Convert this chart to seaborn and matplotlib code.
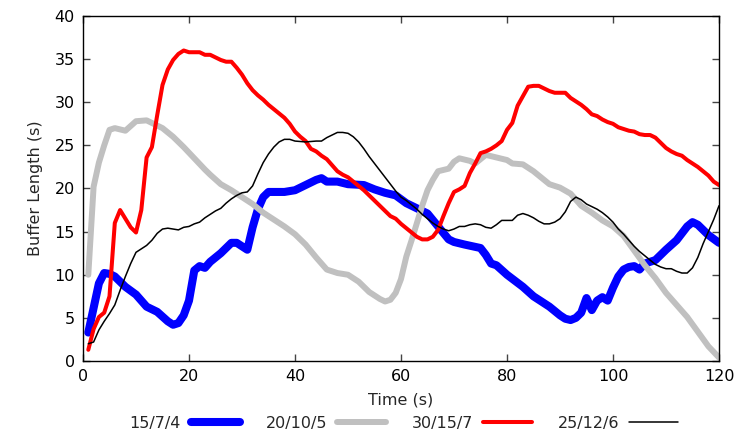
import matplotlib
matplotlib.use("Agg")
import matplotlib.pyplot as plt
import seaborn as sns
import pandas as pd

# ---- data ----
labels = ["15/7/4", "20/10/5", "30/15/7", "25/12/6"]
colors = ["#0000ff", "#c0c0c0", "#ff0000", "#000000"]

t_a = [1,3,4,5,6,8,10,12,14,16,17,18,19,20,21,22,23,24,26,28,29,30,31,32,33,34,35,38,40,42,
       44,45,46,48,50,53,55,57,59,61,63,65,67,69,70,72,75,76,77,78,80,83,85,88,90,91,92,93,94,95,
       96,97,98,99,100,101,102,103,104,105,106,108,110,112,114,115,116,118,120]
v_a = [3.3,9.0,10.2,10.1,9.8,8.6,7.7,6.3,5.7,4.6,4.2,4.4,5.3,7.0,10.5,11.0,10.8,11.5,12.5,13.7,
       13.7,13.3,12.9,15.5,17.6,19.0,19.6,19.6,19.8,20.4,21.0,21.2,20.8,20.8,20.5,20.4,19.9,19.5,19.2,18.3,
       17.7,17.1,15.6,14.1,13.8,13.5,13.1,12.3,11.3,11.1,10.0,8.6,7.5,6.3,5.3,4.9,4.75,5.0,5.6,7.3,
       5.9,7.0,7.4,7.0,8.5,9.8,10.6,10.9,11.0,10.6,11.3,11.7,12.9,14.0,15.6,16.1,15.8,14.6,13.7]

t_b = [1,2,3,4,5,6,8,10,12,13,15,17,19,21,23,24,26,28,30,32,34,36,38,40,42,44,46,48,50,52,
       54,56,57,58,59,60,61,62,63,64,65,66,67,69,70,71,73,74,76,78,80,81,83,85,87,88,90,92,94,96,
       98,100,102,104,106,108,110,112,114,116,118,120]
v_b = [10.0,20.2,23.0,25.0,26.8,27.0,26.7,27.8,27.9,27.6,27.0,26.0,24.8,23.5,22.2,21.6,20.5,19.8,19.0,18.2,
       17.2,16.4,15.6,14.7,13.5,12.0,10.6,10.2,10.0,9.2,8.0,7.2,6.9,7.1,7.9,9.5,12.1,14.0,16.0,18.0,
       19.8,21.0,22.0,22.3,23.1,23.5,23.2,22.9,23.9,23.6,23.3,22.9,22.8,22.0,21.0,20.5,20.1,19.4,18.0,17.2,
       16.3,15.6,14.5,12.8,11.1,9.6,7.9,6.5,5.1,3.4,1.7,0.4]

t_c = [1,2,3,4,5,6,7,8,9,10,11,12,13,14,15,16,17,18,19,20,22,23,24,25,26,27,28,29,30,31,
       32,33,34,35,36,37,38,39,40,41,42,43,44,45,46,47,48,49,50,51,52,53,54,55,56,57,58,59,60,61,
       62,63,64,65,66,67,68,69,70,71,72,73,74,75,76,77,78,79,80,81,82,83,84,85,86,87,88,89,90,91,
       92,93,94,95,96,97,98,99,100,101,102,103,104,105,106,107,108,109,110,111,112,113,114,115,116,117,118,119,120]
v_c = [1.3,3.7,5.1,5.6,7.5,16.0,17.5,16.5,15.5,14.9,17.5,23.6,24.8,28.5,32.0,33.8,34.9,35.6,36.0,35.8,35.8,35.5,35.5,35.2,34.9,34.7,34.7,34.0,33.2,32.2,
       31.4,30.8,30.3,29.7,29.2,28.7,28.2,27.5,26.6,26.0,25.5,24.6,24.3,23.8,23.4,22.7,22.0,21.6,21.3,20.8,20.3,19.8,19.2,18.6,18.0,17.4,16.8,16.5,15.9,15.4,
       14.9,14.4,14.1,14.1,14.4,15.2,16.8,18.3,19.6,19.9,20.3,21.8,22.9,24.1,24.3,24.6,25.0,25.5,26.8,27.6,29.6,30.7,31.8,31.9,31.9,31.6,31.3,31.1,31.1,31.1,
       30.5,30.1,29.7,29.2,28.6,28.4,28.0,27.7,27.5,27.1,26.9,26.7,26.6,26.3,26.2,26.2,25.9,25.3,24.7,24.3,24.0,23.8,23.3,22.9,22.5,22.0,21.5,20.8,20.4]

t_d = [1,2,3,4,5,6,7,8,9,10,11,12,13,14,15,16,17,18,19,20,21,22,23,24,25,26,27,28,29,30,
       31,32,33,34,35,36,37,38,39,40,42,44,45,46,47,48,49,50,51,52,53,54,55,56,57,58,59,60,61,62,
       63,64,65,66,67,68,69,70,71,72,73,74,75,76,77,78,79,80,81,82,83,84,85,86,87,88,89,90,91,92,
       93,94,95,96,97,98,99,100,101,102,103,104,105,106,107,108,109,110,111,112,113,114,115,116,117,118,119,120]
v_d = [2.0,2.2,3.6,4.6,5.5,6.5,8.2,9.8,11.3,12.6,13.0,13.4,14.0,14.8,15.3,15.4,15.3,15.2,15.5,15.6,15.9,16.1,16.6,17.0,17.4,17.7,18.3,18.8,19.2,19.5,
       19.6,20.3,21.7,23.0,24.0,24.8,25.4,25.7,25.7,25.5,25.4,25.5,25.5,25.9,26.2,26.5,26.5,26.4,26.0,25.4,24.6,23.7,22.9,22.1,21.3,20.5,19.7,19.0,18.6,18.1,
       17.6,17.0,16.5,16.0,15.6,15.3,15.1,15.3,15.6,15.6,15.8,15.9,15.8,15.5,15.4,15.8,16.3,16.3,16.3,16.9,17.1,16.9,16.6,16.2,15.9,15.9,16.1,16.5,17.3,18.5,
       19.0,18.7,18.2,17.9,17.6,17.2,16.7,16.1,15.3,14.7,14.0,13.3,12.7,12.2,11.7,11.2,10.9,10.7,10.7,10.4,10.2,10.2,10.8,12.0,13.6,15.0,16.4,18.0]

x_ticks = [0, 20, 40, 60, 80, 100, 120]
y_ticks = [0, 5, 10, 15, 20, 25, 30, 35, 40]

series = [(t_a, v_a), (t_b, v_b), (t_c, v_c), (t_d, v_d)]
widths = [5.8, 4.3, 2.9, 1.1]

sns.set_theme(style="ticks")
plt.rcParams["font.family"] = ["DejaVu Sans"]
plt.rcParams.update({
    "xtick.direction": "in", "ytick.direction": "in",
    "xtick.top": True, "ytick.right": True,
    "xtick.major.size": 5, "ytick.major.size": 5,
    "xtick.major.width": 1.0, "ytick.major.width": 1.0,
    "axes.edgecolor": "black", "axes.linewidth": 1.0,
    "xtick.color": "#444444", "ytick.color": "#444444",
    "xtick.labelcolor": "black", "ytick.labelcolor": "black",
})

fig = plt.figure(figsize=(7.36, 4.36), dpi=100)
ax = fig.add_axes([83/736, 1-361/436, (719-83)/736, (361-16)/436])

for (t, v), lab, col, lw in zip(series, labels, colors, widths):
    df = pd.DataFrame({"t": t, "v": v})
    sns.lineplot(data=df, x="t", y="v", ax=ax, color=col, linewidth=lw, label=lab)

ax.set_xlim(0, 120)
ax.set_ylim(0, 40)
ax.set_xticks(x_ticks)
ax.set_yticks(y_ticks)
ax.tick_params(labelsize=11.5, pad=6)
ax.set_xlabel("Time (s)", fontsize=11.5, labelpad=6)
ax.set_ylabel("Buffer Length (s)", fontsize=11.5, labelpad=8)

ax.legend_.remove()
handles, labs = ax.get_legend_handles_labels()
fig.legend(handles, labs, loc="center", bbox_to_anchor=(404/736, 1-423/436), ncol=4,
           frameon=False, markerfirst=False, handlelength=3.1, handletextpad=0.6,
           columnspacing=1.6, fontsize=11.5)

fig.savefig("out.png", dpi=100)
